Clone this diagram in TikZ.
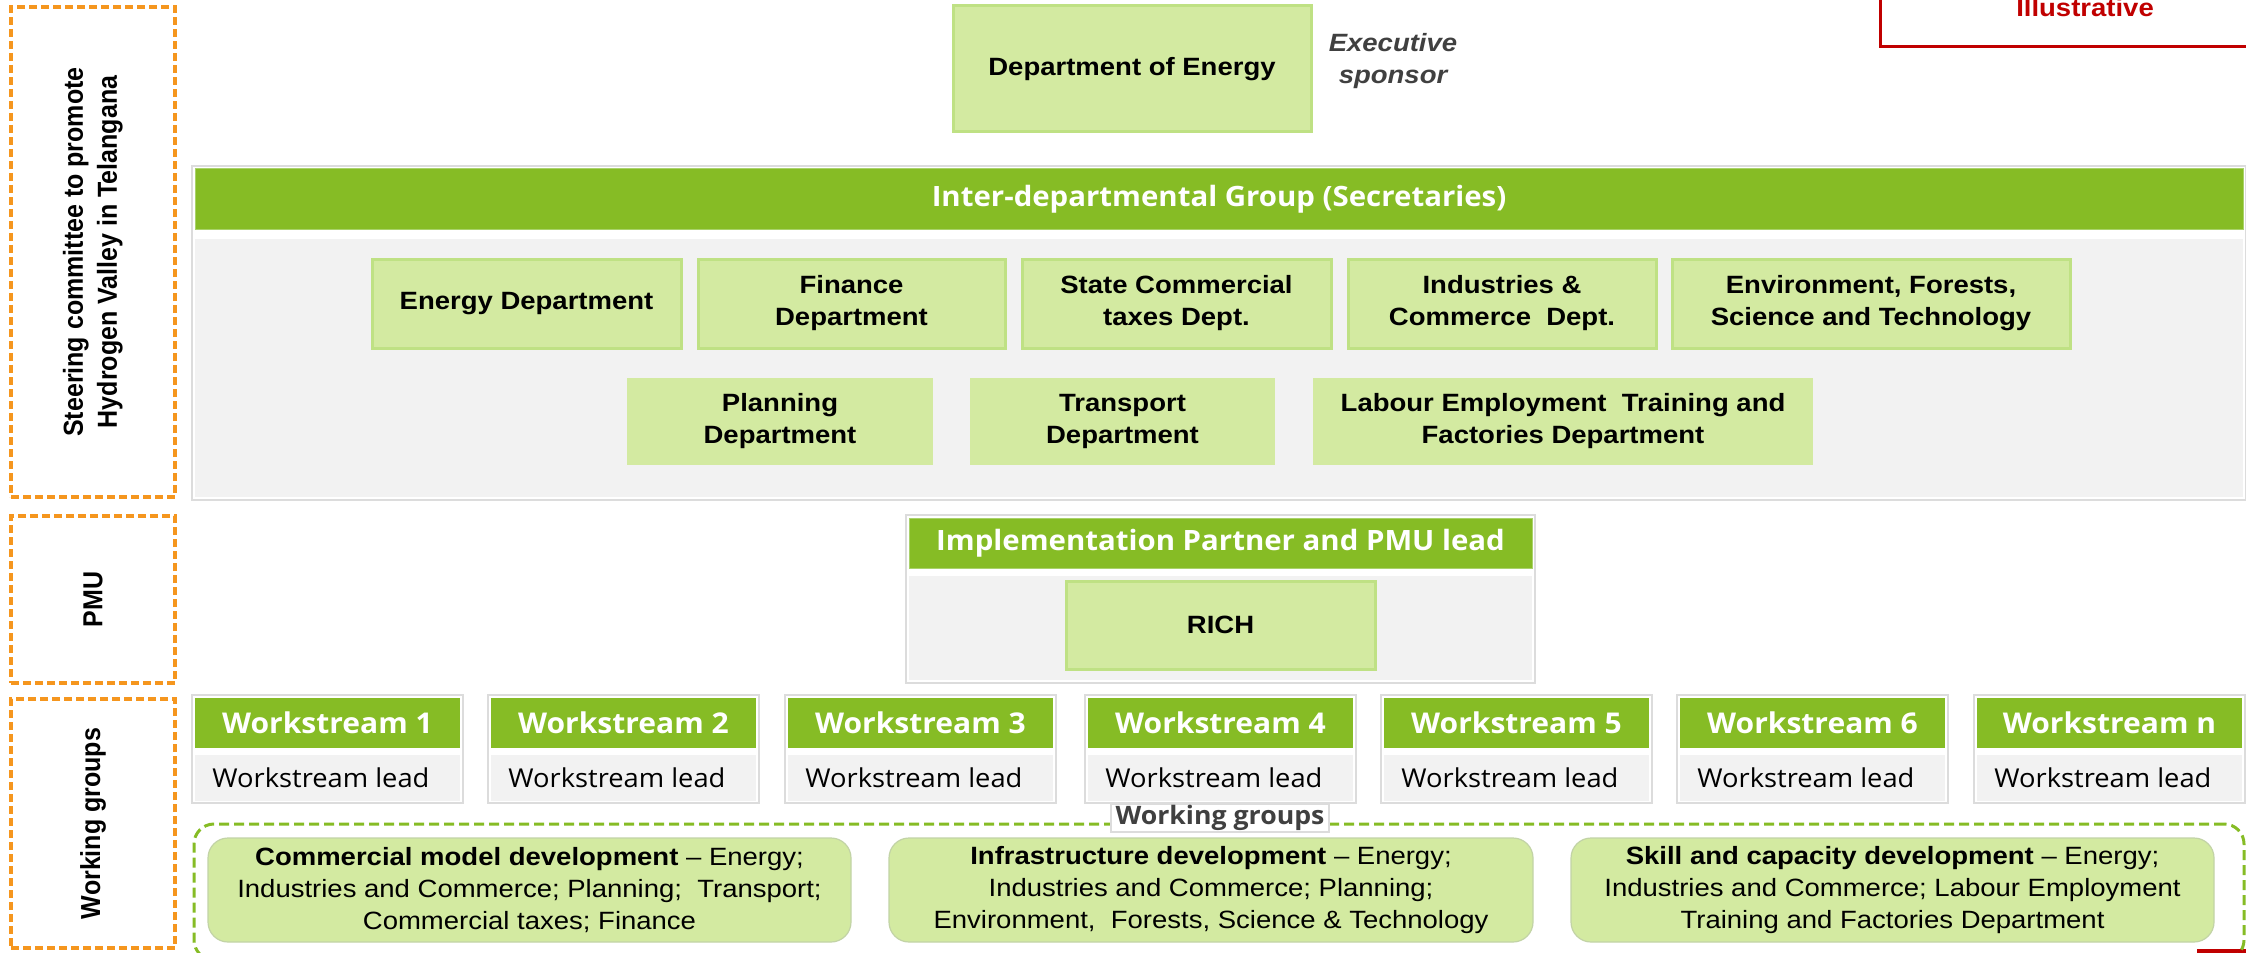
\documentclass[tikz,border=0pt]{standalone}
\usepackage{fontspec}
\setmainfont{Liberation Sans}[FakeStretch=1.1]
\newfontfamily\upfont{Liberation Sans}
\newfontfamily\uifont{Open Sans}[FakeStretch=1.05]

\definecolor{barGreen}{HTML}{86BC25}
\definecolor{barEdge}{HTML}{A9D26A}
\definecolor{lightGreen}{HTML}{D3EAA1}
\definecolor{lightEdge}{HTML}{BFE184}
\definecolor{panelGrey}{HTML}{F2F2F2}
\definecolor{frameGrey}{HTML}{DCDCDC}
\definecolor{orangeC}{HTML}{F5961E}
\definecolor{redC}{HTML}{C00000}
\definecolor{textGrey}{HTML}{404040}
\definecolor{wgEdge}{HTML}{C2D3A6}

% rectangle node given by its corners (pixel units, y downwards)
\newcommand{\placebox}[7]{%
  \node[#2, minimum width={((#5)-(#3))*0.5pt}, minimum height={((#6)-(#4))*0.5pt}]
    (#1) at ({((#3)+(#5))/2},{((#4)+(#6))/2}) {#7};}

\tikzset{
  base/.style={rectangle, inner sep=0pt, outer sep=0pt},
  orangeframe/.style={base, draw=orangeC, line width=1.6pt, dash pattern=on 4pt off 2pt},
  sidelabel/.style={rotate=90, inner sep=0pt, font=\upfont\bfseries\fontsize{12.5}{15.5}\selectfont},
  grpframe/.style={base, fill=white, draw=frameGrey, line width=0.6pt},
  greenbar/.style={base, fill=barGreen, draw=barEdge, line width=0.5pt, text=white,
    font=\uifont\bfseries\fontsize{14}{17}\selectfont},
  panel/.style={base, fill=panelGrey},
  deptbox/.style={base, fill=lightGreen, draw=lightEdge, line width=1.5pt, align=center,
    font=\bfseries\fontsize{12.5}{16}\selectfont},
  deptflat/.style={deptbox, draw=none},
  execlabel/.style={align=center, inner sep=0pt, text=textGrey,
    font=\bfseries\itshape\fontsize{12.5}{16}\selectfont},
  wsframe/.style={base, fill=white, draw=frameGrey, line width=0.6pt},
  wshead/.style={greenbar, draw=none, font=\uifont\bfseries\fontsize{14.3}{17}\selectfont},
  wslead/.style={base, fill=panelGrey},
  wsleadtext/.style={inner sep=0pt, font=\uifont\fontsize{13}{16}\selectfont},
  wgdash/.style={base, draw=barGreen, line width=1.5pt, dash pattern=on 5pt off 2.5pt, rounded corners=10pt},
  wglabel/.style={base, fill=white, draw=frameGrey, line width=0.6pt, text=textGrey,
    font=\uifont\bfseries\fontsize{12.7}{15}\selectfont},
  wgbox/.style={base, fill=lightGreen, draw=wgEdge, line width=0.6pt, rounded corners=10pt,
    align=center, font=\fontsize{12.5}{16}\selectfont},
  illusbox/.style={base, draw=redC, line width=1.5pt},
  illustext/.style={inner sep=0pt, text=redC, font=\bfseries\fontsize{12.5}{15}\selectfont},
}

\begin{document}
\begin{tikzpicture}[x=0.5pt, y=-0.5pt]
\useasboundingbox (0,0) rectangle (2246,952);

% ---- left-hand tier labels
\placebox{secSteer}{orangeframe}{11}{7}{175}{497}{}
\node[sidelabel] (secSteerTxt) at (secSteer.center)
  {\scalebox{1}[1.1]{\begin{tabular}{@{}c@{}}Steering committee to promote\\Hydrogen Valley in Telangana\end{tabular}}};
\placebox{secPmu}{orangeframe}{11}{516}{175}{683}{}
\node[sidelabel] (secPmuTxt) at (secPmu.center) {\scalebox{1}[1.1]{PMU}};
\placebox{secWg}{orangeframe}{11}{699}{175}{948}{}
\node[sidelabel] (secWgTxt) at (secWg.center) {\scalebox{1}[1.1]{Working groups}};

% ---- tag in the top right corner
\placebox{illus}{illusbox}{1880}{-100}{2320}{47}{}
\node[illustext, anchor=base] (illusTxt) at (2085,17) {Illustrative};
\coordinate (redA) at (2197,951);
\coordinate (redB) at (2270,951);
\draw[redC, line width=2pt] (redA) -- (redB);

% ---- executive sponsor
\placebox{doe}{deptbox}{953}{6}{1311}{132}{Department of Energy}
\node[execlabel] (execTxt) at (1393,61) {Executive\\sponsor};

% ---- inter-departmental group
\placebox{igFrame}{grpframe}{192}{166}{2246}{500}{}
\placebox{igBar}{greenbar}{195}{169}{2243}{230}{Inter-departmental Group (Secretaries)}
\placebox{igPanel}{panel}{195}{239}{2243}{497}{}

\placebox{dEnergy}{deptbox}{372}{259}{681}{348}{Energy Department}
\placebox{dFinance}{deptbox}{698}{259}{1005}{348}{Finance\\Department}
\placebox{dTax}{deptbox}{1022}{259}{1331}{348}{State Commercial\\taxes Dept.}
\placebox{dIndustry}{deptbox}{1348}{259}{1656}{348}{Industries \&\\Commerce~ Dept.}
\placebox{dEnv}{deptbox}{1672}{259}{2070}{348}{Environment, Forests,\\Science and Technology}

\placebox{dPlanning}{deptflat}{627}{378}{933}{465}{Planning\\Department}
\placebox{dTransport}{deptflat}{970}{378}{1275}{465}{Transport\\Department}
\placebox{dLabour}{deptflat}{1313}{378}{1813}{465}{Labour Employment~ Training and\\Factories Department}

% ---- PMU
\placebox{pmuFrame}{grpframe}{906}{515}{1535}{683}{}
\placebox{pmuBar}{greenbar}{909}{518}{1532}{568}{Implementation Partner and PMU lead}
\placebox{pmuPanel}{panel}{909}{576}{1532}{680}{}
\placebox{rich}{deptbox}{1066}{581}{1375}{669}{RICH}

% ---- workstreams
\foreach \i/\l/\t in {1/192/1,2/488/2,3/785/3,4/1085/4,5/1381/5,6/1677/6,7/1974/n}{
  \placebox{wsFrame\i}{wsframe}{\l}{695}{\l+271}{803}{}
  \placebox{wsHead\i}{wshead}{\l+3}{698}{\l+268}{748}{Workstream \t}
  \placebox{wsLead\i}{wslead}{\l+3}{755}{\l+268}{801}{}
  \node[wsleadtext, anchor=west, xshift=8.5pt] (wsLeadTxt\i) at (wsLead\i.west) {Workstream lead};
}

% ---- working groups
\placebox{wgFrame}{wgdash}{194}{824}{2244}{960}{}
\placebox{wgLabel}{wglabel}{1111}{804}{1329}{832}{Working groups}
\placebox{wgCommercial}{wgbox}{208}{838}{851}{942}{{\bfseries Commercial model development} – Energy;\\Industries and Commerce; Planning;~ Transport;\\Commercial taxes; Finance}
\placebox{wgInfra}{wgbox}{889}{838}{1533}{942}{{\bfseries Infrastructure development} – Energy;\\Industries and Commerce; Planning;\\Environment,~ Forests, Science \& Technology}
\placebox{wgSkill}{wgbox}{1571}{838}{2214}{942}{{\bfseries Skill and capacity development} – Energy;\\Industries and Commerce; Labour Employment\\Training and Factories Department}
\end{tikzpicture}
\end{document}
